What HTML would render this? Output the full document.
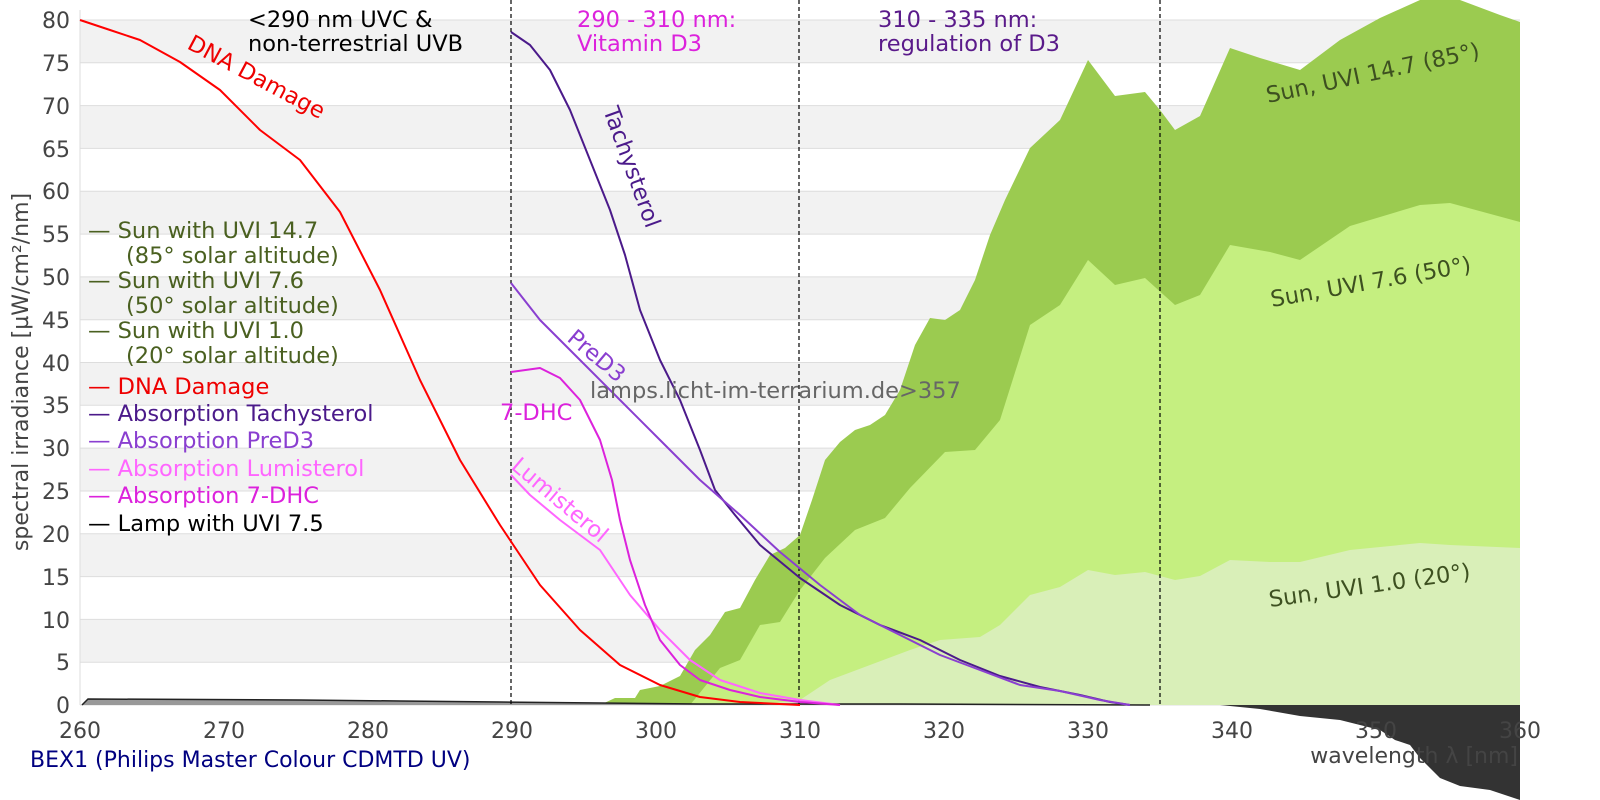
<!DOCTYPE html>
<html><head><meta charset="utf-8"><style>
html,body{margin:0;padding:0;background:#fff}
svg{display:block}
text{font-family:"DejaVu Sans","Liberation Sans",sans-serif}
</style></head><body>
<svg width="1600" height="800" viewBox="0 0 1600 800" xmlns="http://www.w3.org/2000/svg">
<g fill="#f2f2f2">
<rect x="80" y="20" width="1440" height="42.8"/>
<rect x="80" y="105.6" width="1440" height="42.8"/>
<rect x="80" y="191.3" width="1440" height="42.8"/>
<rect x="80" y="276.9" width="1440" height="42.8"/>
<rect x="80" y="362.5" width="1440" height="42.8"/>
<rect x="80" y="448.1" width="1440" height="42.8"/>
<rect x="80" y="533.8" width="1440" height="42.8"/>
<rect x="80" y="619.4" width="1440" height="42.8"/>
</g>
<g stroke="#dddddd" stroke-width="1">
<line x1="80" x2="1520" y1="20" y2="20"/><line x1="80" x2="1520" y1="62.8" y2="62.8"/><line x1="80" x2="1520" y1="105.6" y2="105.6"/><line x1="80" x2="1520" y1="148.4" y2="148.4"/><line x1="80" x2="1520" y1="191.3" y2="191.3"/><line x1="80" x2="1520" y1="234.1" y2="234.1"/><line x1="80" x2="1520" y1="276.9" y2="276.9"/><line x1="80" x2="1520" y1="319.7" y2="319.7"/><line x1="80" x2="1520" y1="362.5" y2="362.5"/><line x1="80" x2="1520" y1="405.3" y2="405.3"/><line x1="80" x2="1520" y1="448.1" y2="448.1"/><line x1="80" x2="1520" y1="491" y2="491"/><line x1="80" x2="1520" y1="533.8" y2="533.8"/><line x1="80" x2="1520" y1="576.6" y2="576.6"/><line x1="80" x2="1520" y1="619.4" y2="619.4"/><line x1="80" x2="1520" y1="662.2" y2="662.2"/><line x1="80" x2="1520" y1="705" y2="705"/>
<line x1="80" x2="80" y1="10" y2="705"/>
</g>
<polygon fill="#9bcb50" points="600,705 615,698 635,698 640,690 660,686 680,676 695,650 710,635 725,612 740,608 755,580 770,555 785,548 800,535 812,500 825,460 840,442 855,430 870,425 885,415 900,390 915,345 930,318 945,320 960,310 975,280 990,235 1005,200 1030,148 1060,120 1088,60 1115,96 1145,92 1160,110 1175,130 1200,116 1230,48 1260,58 1300,70 1340,40 1380,18 1420,0 1460,0 1500,15 1520,22 1520,705"/>
<polygon fill="#c5ef80" points="690,705 720,668 740,660 760,625 780,622 800,590 825,558 855,530 885,518 910,488 945,452 975,450 1000,420 1030,325 1060,305 1088,260 1115,285 1145,278 1175,305 1200,295 1230,245 1270,252 1300,260 1350,226 1420,205 1450,203 1520,222 1520,705"/>
<polygon fill="#d9efb8" points="760,705 800,700 830,680 870,665 910,650 940,640 980,637 1000,625 1030,595 1060,587 1088,570 1115,575 1145,572 1175,580 1200,576 1230,560 1270,562 1300,562 1350,550 1420,543 1450,545 1520,548 1520,705"/>
<polygon fill="#999" points="82,705 88,699 300,700 400,701 500,702 600,703 700,704 900,704 1150,705"/>
<polyline fill="none" stroke="#222" stroke-width="1.5" points="82,705 88,699 300,700 400,701 500,702 600,703 700,704 900,704 1150,705"/>
<polygon fill="#333" points="1220,705 1520,705 1520,800 1490,790 1460,786 1440,778 1420,758 1410,745 1395,740 1380,730 1340,720 1300,716 1260,709"/>
<g stroke="#000" stroke-width="1.2" stroke-dasharray="4,3">
<line x1="511" x2="511" y1="0" y2="705"/><line x1="799" x2="799" y1="0" y2="705"/><line x1="1160" x2="1160" y1="0" y2="705"/>
</g>
<g fill="none" stroke-width="2" stroke-linejoin="round">
<polyline stroke="#ff0000" points="80,20 110,30 140,40 180,62 220,90 260,130 300,160 340,212 380,290 420,380 460,460 500,525 540,585 580,630 620,665 660,685 700,697 740,702 800,705"/>
<polyline stroke="#4b1a8a" points="511,32 530,45 550,70 570,110 590,160 610,210 625,255 640,310 660,360 680,400 700,450 715,490 735,515 760,545 800,578 840,605 880,625 920,640 960,660 1000,676 1040,687 1080,695 1110,702 1130,705"/>
<polyline stroke="#8a3fd0" points="511,283 540,320 580,360 620,400 660,440 700,480 740,515 780,552 820,585 860,615 900,635 940,655 980,670 1020,685 1060,691 1100,700 1130,705"/>
<polyline stroke="#ff66ff" points="511,475 530,495 560,520 600,550 630,595 660,630 690,660 720,680 760,693 800,700 840,705"/>
<polyline stroke="#dc22dc" points="511,372 540,368 560,378 580,400 600,440 612,480 620,520 630,560 645,605 660,640 680,665 700,680 730,690 760,697 800,702 840,705"/>
</g>
<g font-size="22" fill="#444" text-anchor="end">
<text x="70" y="28">80</text><text x="70" y="71">75</text><text x="70" y="114">70</text><text x="70" y="157">65</text><text x="70" y="199">60</text><text x="70" y="242">55</text><text x="70" y="285">50</text><text x="70" y="328">45</text><text x="70" y="371">40</text><text x="70" y="413">35</text><text x="70" y="456">30</text><text x="70" y="499">25</text><text x="70" y="542">20</text><text x="70" y="585">15</text><text x="70" y="628">10</text><text x="70" y="670">5</text><text x="70" y="713">0</text>
</g>
<g font-size="22" fill="#444" text-anchor="middle">
<text x="80" y="738">260</text><text x="224" y="738">270</text><text x="368" y="738">280</text><text x="512" y="738">290</text><text x="656" y="738">300</text><text x="800" y="738">310</text><text x="944" y="738">320</text><text x="1088" y="738">330</text><text x="1232" y="738">340</text><text x="1376" y="738">350</text><text x="1520" y="738">360</text>
</g>
<text x="1518" y="763" font-size="22" fill="#444" text-anchor="end">wavelength λ [nm]</text>
<text transform="translate(28,372) rotate(-90)" font-size="22" fill="#444" text-anchor="middle">spectral irradiance [µW/cm²/nm]</text>
<text x="30" y="767" font-size="22" fill="#000080">BEX1 (Philips Master Colour CDMTD UV)</text>
<g font-size="22.5">
<text x="88" y="238" fill="#4a6020">— Sun with UVI 14.7</text>
<text x="126" y="263" fill="#4a6020">(85° solar altitude)</text>
<text x="88" y="288" fill="#4a6020">— Sun with UVI 7.6</text>
<text x="126" y="313" fill="#4a6020">(50° solar altitude)</text>
<text x="88" y="338" fill="#4a6020">— Sun with UVI 1.0</text>
<text x="126" y="363" fill="#4a6020">(20° solar altitude)</text>
<text x="88" y="394" fill="#ee0000">— DNA Damage</text>
<text x="88" y="421" fill="#4b1a8a">— Absorption Tachysterol</text>
<text x="88" y="448" fill="#8a3fd0">— Absorption PreD3</text>
<text x="88" y="476" fill="#ff66ff">— Absorption Lumisterol</text>
<text x="88" y="503" fill="#dc22dc">— Absorption 7-DHC</text>
<text x="88" y="531" fill="#000">— Lamp with UVI 7.5</text>
</g>
<g font-size="22.5">
<text x="248" y="27" fill="#000">&lt;290 nm UVC &amp;</text>
<text x="248" y="51" fill="#000">non-terrestrial UVB</text>
<text x="577" y="27" fill="#dc22dc">290 - 310 nm:</text>
<text x="577" y="51" fill="#dc22dc">Vitamin D3</text>
<text x="878" y="27" fill="#5a1a8a">310 - 335 nm:</text>
<text x="878" y="51" fill="#5a1a8a">regulation of D3</text>
</g>
<g font-size="22.5">
<text transform="translate(186,48) rotate(28)" fill="#ee0000">DNA Damage</text>
<text transform="translate(603,110) rotate(70)" fill="#4b1a8a">Tachysterol</text>
<text transform="translate(566,340) rotate(40)" fill="#8a3fd0">PreD3</text>
<text transform="translate(510,468) rotate(40)" fill="#ff66ff">Lumisterol</text>
<text x="500" y="420" fill="#dc22dc">7-DHC</text>
<text x="590" y="398" fill="#666" font-size="22.5">lamps.licht-im-terrarium.de&gt;357</text>
<text transform="translate(1268,103) rotate(-12)" fill="#3d5020">Sun, UVI 14.7 (85°)</text>
<text transform="translate(1272,307) rotate(-10)" fill="#3d5020">Sun, UVI 7.6 (50°)</text>
<text transform="translate(1270,607) rotate(-8)" fill="#3d5020">Sun, UVI 1.0 (20°)</text>
</g>
</svg>
</body></html>
